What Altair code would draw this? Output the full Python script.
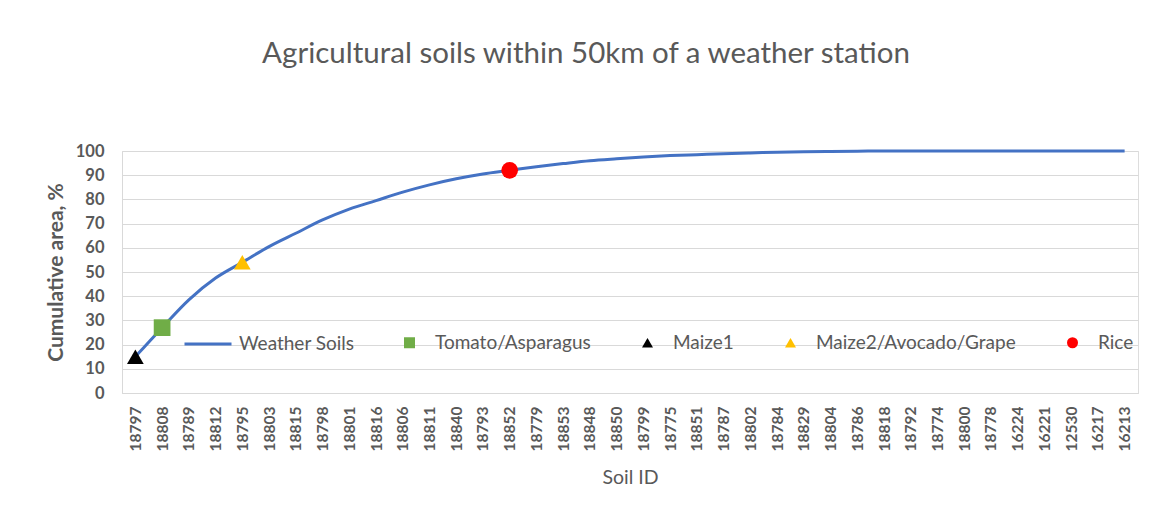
import altair as alt
import pandas as pd

soil_ids = ["18797", "18808", "18789", "18812", "18795", "18803", "18815", "18798",
            "18801", "18816", "18806", "18811", "18840", "18793", "18852", "18779",
            "18853", "18848", "18850", "18799", "18775", "18851", "18787", "18802",
            "18784", "18829", "18804", "18786", "18818", "18792", "18774", "18800",
            "18778", "16224", "16221", "12530", "16217", "16213"]
weather_soils = [15, 27, 38.5, 47.5, 54, 60.5, 66, 71.5,
                 76, 79.5, 83, 86, 88.5, 90.5, 92, 93.5,
                 94.8, 96, 96.8, 97.5, 98.1, 98.5, 98.9, 99.2,
                 99.5, 99.7, 99.8, 99.9, 100, 100, 100, 100,
                 100, 100, 100, 100, 100, 100]

marker_series = ["Tomato/Asparagus", "Maize1", "Maize2/Avocado/Grape", "Rice"]
marker_soil_ids = ["18808", "18797", "18795", "18852"]
marker_values = [27, 15, 54, 92]
marker_colors = ["#70AD47", "#000000", "#FFC000", "#FF0000"]
marker_shapes = ["square", "triangle-up", "triangle-up", "circle"]

FONT = "Lato"
GREY = "#595959"
GRID = "#D9D9D9"

line_df = pd.DataFrame({"soil": soil_ids, "value": weather_soils,
                        "series": ["Weather Soils"] * len(soil_ids)})
pts_df = pd.DataFrame({"soil": marker_soil_ids, "value": marker_values,
                       "series": marker_series})

x_enc = alt.X("soil:N", sort=soil_ids, scale=alt.Scale(padding=0.5),
              axis=alt.Axis(title="Soil ID", labelAngle=270, labelAlign="right",
                            labelBaseline="middle", labelPadding=13,
                            labelFont=FONT, labelFontSize=15.5, labelFontWeight="bold",
                            labelColor=GREY, ticks=False, grid=False,
                            domainColor=GRID, titleFont=FONT, titleFontSize=19.5,
                            titleFontWeight="normal", titleColor=GREY,
                            titlePadding=18, labelOverlap=False))
y_enc = alt.Y("value:Q", scale=alt.Scale(domain=[0, 100], nice=False),
              axis=alt.Axis(title="Cumulative area, %", values=list(range(0, 101, 10)),
                            labelFont=FONT, labelFontSize=16.5, labelFontWeight="bold",
                            labelColor=GREY, labelPadding=18, ticks=False,
                            gridColor=GRID, domainColor=GRID,
                            titleFont=FONT, titleFontSize=21, titleFontWeight="bold",
                            titleColor=GREY, titlePadding=9))

line = alt.Chart(line_df).mark_line(strokeWidth=3, interpolate="monotone").encode(
    x=x_enc, y=y_enc,
    stroke=alt.Stroke("series:N",
                      scale=alt.Scale(domain=["Weather Soils"], range=["#4472C4"]),
                      legend=alt.Legend(title=None, orient="none", legendX=61, legendY=168,
                                        direction="horizontal", symbolType="stroke",
                                        symbolSize=2209, symbolStrokeWidth=3,
                                        labelFont=FONT, labelFontSize=19, labelColor=GREY,
                                        labelOffset=6, padding=0, labelLimit=400)),
)

pt_legend = alt.Legend(title=None, orient="none", legendX=278, legendY=182,
                       direction="horizontal", columns=4, columnPadding=47,
                       symbolSize=121, symbolOpacity=1, symbolStrokeWidth=0,
                       labelFont=FONT, labelFontSize=19, labelColor=GREY,
                       labelOffset=16, padding=0, labelLimit=400)

points = alt.Chart(pts_df).mark_point(filled=True, size=280, opacity=1).encode(
    x=x_enc, y=y_enc,
    fill=alt.Fill("series:N", scale=alt.Scale(domain=marker_series, range=marker_colors),
                  legend=pt_legend),
    shape=alt.Shape("series:N", scale=alt.Scale(domain=marker_series, range=marker_shapes),
                    legend=pt_legend),
)

chart = alt.layer(line, points).resolve_scale(
    color="independent"
).properties(
    width=1016, height=242,
    autosize=alt.AutoSizeParams(type="none"),
    padding={"left": 114, "top": 143, "right": 4, "bottom": 110},
    title=alt.TitleParams("Agricultural soils within 50km of a weather station",
                          font=FONT, fontSize=29.5, fontWeight="normal", color=GREY,
                          anchor="middle", dx=-44, offset=74),
).configure_view(strokeWidth=0).configure(background="white")

chart.save("out.html", embed_options={"renderer": "svg", "actions": False})
